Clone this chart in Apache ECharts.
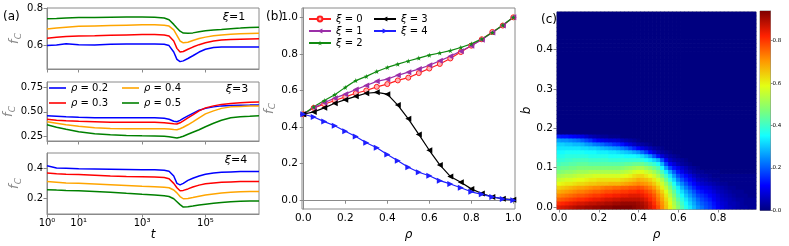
<!DOCTYPE html>
<html><head><meta charset="utf-8">
<script src="https://cdn.jsdelivr.net/npm/echarts@6/dist/echarts.min.js"></script>
<style>html,body{margin:0;padding:0;background:#fff}#c{width:789px;height:246px}</style>
</head><body><div id="c"></div>
<script>
// ---------- panel (a): time series ----------
const tVals = [1,2,4,10,32,100,320,1000,2500,5000,7100,1.0e4,1.26e4,1.58e4,2.0e4,2.8e4,4.0e4,6.3e4,1.0e5,1.8e5,3.2e5,6.3e5,1.26e6,2.5e6,4.9e6];
const xi1_r02 = [0.600,0.603,0.610,0.605,0.603,0.607,0.608,0.609,0.609,0.607,0.600,0.565,0.525,0.513,0.517,0.530,0.545,0.565,0.580,0.590,0.593,0.593,0.592,0.592,0.592];
const xi1_r03 = [0.640,0.645,0.650,0.652,0.653,0.656,0.658,0.660,0.660,0.658,0.652,0.625,0.585,0.565,0.568,0.580,0.592,0.605,0.615,0.625,0.630,0.633,0.635,0.636,0.637];
const xi1_r04 = [0.690,0.696,0.700,0.705,0.707,0.709,0.711,0.713,0.713,0.711,0.706,0.685,0.655,0.625,0.615,0.618,0.628,0.638,0.646,0.653,0.658,0.661,0.664,0.666,0.667];
const xi1_r05 = [0.745,0.747,0.750,0.752,0.753,0.754,0.755,0.755,0.754,0.750,0.740,0.715,0.695,0.678,0.668,0.667,0.669,0.675,0.680,0.685,0.688,0.692,0.695,0.698,0.700];
const xi3_r02 = [0.460,0.455,0.450,0.445,0.440,0.440,0.440,0.440,0.440,0.435,0.425,0.405,0.400,0.415,0.435,0.460,0.485,0.517,0.535,0.550,0.560,0.565,0.567,0.568,0.570];
const xi3_r03 = [0.425,0.415,0.410,0.405,0.400,0.395,0.395,0.395,0.395,0.390,0.385,0.380,0.378,0.390,0.410,0.440,0.470,0.510,0.540,0.560,0.575,0.585,0.592,0.597,0.600];
const xi3_r04 = [0.400,0.385,0.370,0.355,0.340,0.333,0.330,0.330,0.330,0.330,0.328,0.323,0.320,0.330,0.345,0.370,0.400,0.440,0.480,0.510,0.535,0.550,0.555,0.558,0.560];
const xi3_r05 = [0.370,0.345,0.325,0.300,0.280,0.270,0.263,0.260,0.258,0.255,0.250,0.243,0.237,0.245,0.255,0.275,0.295,0.320,0.350,0.385,0.415,0.440,0.450,0.455,0.460];
const xi4_r02 = [0.420,0.405,0.403,0.400,0.398,0.396,0.394,0.392,0.392,0.390,0.383,0.350,0.300,0.290,0.300,0.320,0.335,0.350,0.362,0.370,0.375,0.378,0.380,0.380,0.380];
const xi4_r03 = [0.370,0.365,0.362,0.360,0.355,0.350,0.347,0.345,0.343,0.340,0.332,0.300,0.270,0.250,0.252,0.262,0.275,0.288,0.297,0.303,0.308,0.310,0.312,0.313,0.313];
const xi4_r04 = [0.313,0.308,0.303,0.300,0.295,0.290,0.285,0.280,0.277,0.274,0.270,0.255,0.235,0.210,0.195,0.197,0.203,0.212,0.220,0.228,0.235,0.240,0.243,0.245,0.245];
const xi4_r05 = [0.257,0.254,0.252,0.250,0.245,0.240,0.232,0.225,0.220,0.215,0.210,0.195,0.175,0.155,0.138,0.140,0.145,0.152,0.158,0.165,0.170,0.175,0.178,0.180,0.180];
const rhoNamesA = ['ρ = 0.2','ρ = 0.3','ρ = 0.4','ρ = 0.5'];
const rhoColorsA = ['#0000ff','#ff0000','#ffa500','#008000'];
const tTickVals = [1,10,1000,100000];
const tTickLabels = ['10⁰','10¹','10³','10⁵'];

// ---------- panel (b) ----------
const rhoB = [0,0.05,0.1,0.15,0.2,0.25,0.3,0.35,0.4,0.45,0.5,0.55,0.6,0.65,0.7,0.75,0.8,0.85,0.9,0.95,1.0];
const fcXi0 = [0.47,0.505,0.525,0.545,0.565,0.585,0.60,0.62,0.635,0.655,0.67,0.695,0.72,0.745,0.775,0.81,0.845,0.88,0.92,0.955,1.0];
const fcXi1 = [0.47,0.505,0.533,0.558,0.58,0.605,0.627,0.65,0.662,0.683,0.70,0.717,0.738,0.762,0.787,0.815,0.845,0.878,0.917,0.955,1.0];
const fcXi2 = [0.47,0.511,0.545,0.577,0.617,0.654,0.677,0.704,0.726,0.744,0.761,0.777,0.793,0.805,0.818,0.835,0.855,0.882,0.917,0.958,1.0];
const fcXi3 = [0.47,0.483,0.505,0.53,0.55,0.568,0.585,0.59,0.58,0.52,0.445,0.36,0.273,0.193,0.13,0.098,0.062,0.037,0.018,0.008,0.003];
const fcXi4 = [0.47,0.455,0.43,0.407,0.377,0.348,0.314,0.287,0.25,0.216,0.18,0.153,0.134,0.107,0.089,0.068,0.046,0.032,0.018,0.007,0.0];
const bTicks = [0,0.2,0.4,0.6,0.8,1.0];

// ---------- panel (c): heatmap rows (b = 0.00, 0.01, ...), columns rho = 0.00..0.98 step 0.02 ----------
const hm00 = [.85,.86,.87,.88,.89,.90,.90,.91,.91,.92,.92,.93,.93,.93,.94,.94,.94,.94,.94,.93,.92,.91,.89,.86,.83,.78,.72,.66,.60,.54,.48,.42,.37,.33,.29,.25,.22,.19,.17,.14,.11,.09,.07,.06,.05,.04,.03,.03,.02,.02];
const hm01 = [.81,.82,.83,.84,.85,.86,.86,.87,.88,.88,.89,.89,.90,.90,.91,.91,.92,.92,.92,.92,.91,.90,.88,.85,.81,.76,.71,.65,.59,.52,.46,.40,.35,.31,.27,.23,.20,.18,.16,.13,.10,.08,.07,.05,.05,.04,.03,.02,.02,.02];
const hm02 = [.76,.77,.78,.79,.80,.81,.81,.82,.83,.84,.84,.85,.86,.86,.87,.87,.88,.88,.88,.88,.88,.87,.85,.82,.79,.74,.69,.63,.57,.50,.43,.38,.33,.29,.25,.21,.18,.16,.14,.11,.09,.07,.06,.05,.04,.03,.03,.02,.02,.02];
const hm03 = [.72,.73,.74,.75,.76,.77,.77,.78,.79,.80,.80,.81,.82,.82,.83,.83,.84,.84,.85,.85,.85,.84,.82,.80,.77,.72,.67,.61,.54,.47,.40,.35,.30,.26,.22,.18,.16,.14,.12,.10,.08,.06,.05,.04,.03,.02,.02,.02,.01,.01];
const hm04 = [.68,.69,.70,.71,.72,.73,.73,.74,.75,.76,.76,.77,.78,.78,.79,.79,.80,.80,.81,.81,.82,.81,.79,.77,.74,.69,.64,.58,.51,.44,.37,.32,.27,.23,.19,.15,.13,.11,.10,.08,.06,.05,.04,.03,.02,.02,.02,.01,.01,.01];
const hm05 = [.64,.65,.66,.67,.68,.69,.69,.70,.71,.72,.72,.73,.74,.74,.75,.75,.76,.76,.77,.77,.78,.77,.75,.73,.70,.65,.60,.54,.47,.40,.34,.28,.23,.19,.15,.12,.10,.09,.08,.06,.05,.04,.03,.02,.02,.01,.01,.01,.01,.01];
const hm06 = [.59,.60,.61,.61,.62,.63,.63,.64,.65,.65,.66,.66,.66,.67,.67,.67,.68,.69,.70,.71,.72,.71,.70,.68,.65,.61,.56,.50,.43,.36,.29,.24,.19,.15,.12,.09,.07,.06,.05,.04,.03,.02,.02,.01,.01,.01,.01,.01,.01,.01];
const hm07 = [.55,.56,.57,.57,.58,.59,.59,.60,.61,.61,.62,.62,.62,.62,.62,.62,.63,.64,.65,.66,.68,.67,.66,.64,.61,.57,.52,.45,.38,.31,.24,.19,.15,.12,.09,.06,.05,.04,.03,.02,.02,.01,.01,.01,.01,.01,.01,.01,.01,.01];
const hm08 = [.51,.52,.53,.53,.54,.55,.55,.56,.56,.57,.57,.57,.57,.57,.57,.57,.58,.59,.60,.62,.63,.63,.61,.59,.56,.52,.46,.40,.33,.26,.19,.15,.12,.09,.06,.04,.03,.03,.02,.01,.01,.01,.01,.01,.01,.01,.01,.01,.01,.01];
const hm09 = [.47,.48,.49,.49,.50,.51,.51,.51,.52,.52,.52,.52,.52,.52,.52,.52,.53,.54,.55,.57,.58,.58,.56,.54,.51,.47,.41,.34,.27,.20,.14,.10,.07,.05,.03,.02,.02,.01,.01,.01,.01];
const hm10 = [.44,.45,.45,.46,.46,.47,.47,.47,.47,.47,.47,.47,.47,.47,.47,.47,.48,.49,.50,.51,.52,.52,.50,.48,.45,.42,.35,.26,.18,.13,.10,.07,.05,.03,.02,.01];
const hm11 = [.41,.42,.42,.43,.43,.44,.44,.44,.43,.43,.43,.43,.43,.43,.43,.43,.43,.44,.44,.45,.45,.45,.43,.41,.39,.36,.28,.18,.11,.08,.05,.03,.02,.01];
const hm12 = [.39,.39,.40,.40,.41,.41,.41,.41,.40,.40,.40,.40,.40,.39,.39,.39,.39,.39,.39,.39,.39,.38,.36,.34,.31,.28,.19,.11,.06,.04,.03,.02,.01];
const hm13 = [.37,.37,.38,.38,.38,.38,.38,.38,.37,.37,.37,.37,.37,.36,.36,.36,.36,.35,.35,.35,.34,.32,.29,.25,.19,.13,.08,.05,.03,.02,.01];
const hm14 = [.35,.35,.36,.36,.36,.36,.36,.35,.35,.35,.34,.34,.34,.33,.33,.32,.31,.30,.29,.27,.25,.21,.17,.12,.08,.05,.03,.02,.01];
const hm15 = [.33,.33,.33,.33,.33,.33,.32,.32,.31,.31,.30,.29,.28,.27,.26,.25,.23,.21,.18,.15,.12,.09,.07,.05,.03,.02,.01];
const hm16 = [.31,.31,.30,.30,.29,.29,.28,.26,.25,.23,.22,.21,.19,.18,.16,.15,.13,.10,.08,.06,.04,.03,.02,.01];
const hm17 = [.26,.25,.25,.24,.23,.22,.20,.18,.16,.13,.11,.10,.09,.08,.08,.07,.05,.04,.03,.02,.01];
const hm18 = [.14,.13,.13,.12,.11,.10,.09,.07,.05,.04,.03,.02,.02,.01,.01,.01];
const hmRows = [hm00,hm01,hm02,hm03,hm04,hm05,hm06,hm07,hm08,hm09,hm10,hm11,hm12,hm13,hm14,hm15,hm16,hm17,hm18];
const nRho = 50, nB = 50;            // grid size; cells not listed above read as 0 (uniform dark blue)
const cbTicks = [0,0.2,0.4,0.6,0.8];
const cbMax = 0.94;

// ---------- build ----------
const FONT = 'DejaVu Sans';
const AX = '#8a8a8a';
const jet = ['#000080','#0000ff','#0080ff','#14ffff','#7cff7a','#e3ff14','#ff9700','#ff2100','#800000'];

const rhoCats = [], bCats = [];
for (let k = 0; k < nRho; k++) rhoCats.push((k*0.02).toFixed(2));
for (let j = 0; j < nB; j++) bCats.push((j*0.01).toFixed(2));
const hmData = [];
for (let j = 0; j < nB; j++) {
  const row = hmRows[j] || [];
  for (let k = 0; k < nRho; k++) hmData.push([k, j, row[k] !== undefined ? row[k] : 0]);
}

function gridBox(l,t,w,h){return {left:l,top:t,width:w,height:h,show:true,borderColor:AX,borderWidth:1,containLabel:false};}
const tick = {show:true,inside:false,length:3.5,lineStyle:{color:AX,width:1}};
const line = {show:true,lineStyle:{color:AX,width:1}};
const lbl = (fs) => ({color:'#000',fontFamily:FONT,fontSize:fs,margin:4});
const fcName = '{f|f}{s|C}';
const fcStyle = {rich:{f:{fontFamily:FONT,fontStyle:'italic',fontSize:13,lineHeight:16,verticalAlign:'middle'},s:{fontFamily:FONT,fontStyle:'italic',fontSize:9,lineHeight:9,verticalAlign:'bottom'}}};

function logX(grid, showLabels){
  return {type:'log',logBase:10,gridIndex:grid,min:1,max:4.9e6,
    axisLine:line,axisTick:Object.assign({},tick,{customValues:tTickVals}),splitLine:{show:false},minorTick:{show:false},
    axisLabel:Object.assign(lbl(10),{show:showLabels,customValues:tTickVals,
      formatter:(v)=>{const i=tTickVals.findIndex(x=>Math.abs(x-v)/x<1e-6);return i>=0?tTickLabels[i]:'';}}),
    name: showLabels?'t':'', nameLocation:'middle', nameGap:15,
    nameTextStyle:{fontFamily:FONT,fontStyle:'italic',fontSize:12,color:'#000'}};
}
function valY(grid,min,max,ticks,dec,fs){
  return {type:'value',gridIndex:grid,min:min,max:max,
    axisLine:line,axisTick:Object.assign({},tick,{customValues:ticks}),splitLine:{show:false},
    axisLabel:Object.assign(lbl(fs),{customValues:ticks,formatter:(v)=>v.toFixed(dec)}),
    name:fcName,nameLocation:'middle',nameRotate:90,nameGap:24,nameTextStyle:fcStyle};
}

const series = [];
const aSets = [[xi1_r02,xi1_r03,xi1_r04,xi1_r05],[xi3_r02,xi3_r03,xi3_r04,xi3_r05],[xi4_r02,xi4_r03,xi4_r04,xi4_r05]];
aSets.forEach((set, g) => {
  set.forEach((arr, i) => {
    series.push({type:'line',name:rhoNamesA[i],xAxisIndex:g,yAxisIndex:g,symbol:'none',
      data:tVals.map((t,n)=>[t,arr[n]]),lineStyle:{color:rhoColorsA[i],width:1.5},itemStyle:{color:rhoColorsA[i]},
      silent:true,z:2});
  });
});

const star = 'path://M0,-10L2.35,-3.24L9.51,-3.09L3.8,1.24L5.88,8.09L0,4L-5.88,8.09L-3.8,1.24L-9.51,-3.09L-2.35,-3.24Z';
const bSpecs = [
  {name:'ξ = 0',data:fcXi0,color:'#ff2020',symbol:'circle',size:5,rot:0,fill:'#ffb3b3'},
  {name:'ξ = 1',data:fcXi1,color:'#9b2fa8',symbol:'triangle',size:6,rot:90,fill:'#9b2fa8'},
  {name:'ξ = 2',data:fcXi2,color:'#108a10',symbol:star,size:5,rot:0,fill:'#108a10'},
  {name:'ξ = 3',data:fcXi3,color:'#000000',symbol:'triangle',size:6,rot:90,fill:'#000000'},
  {name:'ξ = 4',data:fcXi4,color:'#1f1fff',symbol:'triangle',size:6,rot:-90,fill:'#1f1fff'}
];
bSpecs.forEach(s => {
  series.push({type:'line',name:s.name,xAxisIndex:3,yAxisIndex:3,symbol:s.symbol,symbolSize:s.size,symbolRotate:s.rot,showSymbol:true,
    data:rhoB.map((r,i)=>[r,s.data[i]]),lineStyle:{color:s.color,width:1.2},
    itemStyle:{color:s.fill,borderColor:s.color,borderWidth:s.symbol==='circle'?1:0},z:3});
});
const hmIndex = series.length;
series.push({type:'custom',xAxisIndex:4,yAxisIndex:4,data:hmData,encode:{x:0,y:1},silent:true,
  renderItem:(params,api)=>{
    const c = api.coord([api.value(0),api.value(1)]);
    const s = api.size([1,1]);
    return {type:'rect',shape:{x:c[0]-s[0]/2-0.35,y:c[1]-s[1]/2-0.35,width:s[0]+0.7,height:s[1]+0.7},
      style:{fill:api.visual('color'),stroke:null}};
  }});
const stops = jet.map((c,i)=>({offset:i/(jet.length-1),color:c}));
series.push({type:'bar',xAxisIndex:5,yAxisIndex:5,data:[cbMax],barWidth:'100%',silent:true,
  itemStyle:{color:new echarts.graphic.LinearGradient(0,1,0,0,stops)}});

const legText = (fs) => ({fontFamily:FONT,fontSize:fs,color:'#000',rich:{i:{fontFamily:FONT,fontStyle:'italic',fontSize:fs}}});
const legFmt = (name) => '{i|' + name.charAt(0) + '}' + name.slice(1);

const option = {
  animation:false,
  backgroundColor:'#fff',
  grid:[gridBox(47,8,212,61),gridBox(47,82,212,59),gridBox(47,153,212,61),gridBox(302,8,213,205),gridBox(557,12,199,199),gridBox(760,11,10.5,199.5)],
  xAxis:[logX(0,false),logX(1,false),logX(2,true),
    {type:'value',gridIndex:3,min:-0.006,max:1.008,axisLine:line,axisTick:Object.assign({},tick,{customValues:bTicks}),splitLine:{show:false},
      axisLabel:Object.assign(lbl(10.5),{customValues:bTicks,formatter:v=>v.toFixed(1)}),
      name:'ρ',nameLocation:'middle',nameGap:20,nameTextStyle:{fontFamily:FONT,fontStyle:'italic',fontSize:12,color:'#000'}},
    {type:'category',gridIndex:4,data:rhoCats,axisLine:line,
      axisTick:Object.assign({},tick,{alignWithLabel:true,interval:(i)=>i%10===0}),
      axisLabel:Object.assign(lbl(10.5),{interval:(i)=>i%10===0,formatter:v=>Number(v).toFixed(1)}),
      name:'ρ',nameLocation:'middle',nameGap:20,nameTextStyle:{fontFamily:FONT,fontStyle:'italic',fontSize:12,color:'#000'}},
    {type:'category',gridIndex:5,data:['cb'],show:false}
  ],
  yAxis:[valY(0,0.473,0.804,[0.6,0.8],1,10),valY(1,0.207,0.80,[0.25,0.5,0.75],2,10),valY(2,0.091,0.507,[0.2,0.4],1,10),
    Object.assign(valY(3,-0.048,1.051,bTicks,1,10.5),{nameGap:23}),
    {type:'category',gridIndex:4,data:bCats,axisLine:line,
      axisTick:Object.assign({},tick,{alignWithLabel:true,interval:(i)=>i%10===0}),
      axisLabel:Object.assign(lbl(10.5),{interval:(i)=>i%10===0,formatter:v=>Number(v).toFixed(1)}),
      name:'b',nameLocation:'middle',nameRotate:90,nameGap:9,nameTextStyle:{fontFamily:FONT,fontStyle:'italic',fontSize:12,color:'#000'}},
    {type:'value',gridIndex:5,min:0,max:cbMax,position:'right',axisLine:line,
      axisTick:Object.assign({},tick,{length:2,customValues:cbTicks}),splitLine:{show:false},
      axisLabel:Object.assign(lbl(5.5),{margin:2,customValues:cbTicks,formatter:v=>v.toFixed(1)})}
  ],
  visualMap:[{type:'continuous',show:false,min:0,max:cbMax,dimension:2,seriesIndex:hmIndex,inRange:{color:jet}}],
  legend:[
    {left:49,top:83,orient:'vertical',data:['ρ = 0.2','ρ = 0.3'],icon:'rect',itemWidth:17,itemHeight:1.6,itemGap:5,padding:0,textStyle:legText(10),formatter:legFmt,selectedMode:false},
    {left:122,top:83,orient:'vertical',data:['ρ = 0.4','ρ = 0.5'],icon:'rect',itemWidth:17,itemHeight:1.6,itemGap:5,padding:0,textStyle:legText(10),formatter:legFmt,selectedMode:false},
    {left:308,top:14,orient:'vertical',data:['ξ = 0','ξ = 1','ξ = 2'],itemWidth:22,itemHeight:6,itemGap:2,padding:0,textStyle:legText(10),formatter:legFmt,selectedMode:false},
    {left:373,top:14,orient:'vertical',data:['ξ = 3','ξ = 4'],itemWidth:22,itemHeight:6,itemGap:2,padding:0,textStyle:legText(10),formatter:legFmt,selectedMode:false}
  ],
  graphic:[
    {type:'text',x:3,y:17,style:{text:'(a)',fontFamily:FONT,fontSize:12,fill:'#000',verticalAlign:'middle'}},
    {type:'text',x:266,y:17,style:{text:'(b)',fontFamily:FONT,fontSize:12,fill:'#000',verticalAlign:'middle'}},
    {type:'text',x:541,y:20,style:{text:'(c)',fontFamily:FONT,fontSize:12,fill:'#000',verticalAlign:'middle'}},
    {type:'text',x:234,y:17,style:{text:'{i|ξ}=1',fontFamily:FONT,fontSize:11,fill:'#000',align:'center',verticalAlign:'middle',rich:{i:{fontFamily:FONT,fontStyle:'italic',fontSize:11}}}},
    {type:'text',x:237,y:89,style:{text:'{i|ξ}=3',fontFamily:FONT,fontSize:11,fill:'#000',align:'center',verticalAlign:'middle',rich:{i:{fontFamily:FONT,fontStyle:'italic',fontSize:11}}}},
    {type:'text',x:236,y:160,style:{text:'{i|ξ}=4',fontFamily:FONT,fontSize:11,fill:'#000',align:'center',verticalAlign:'middle',rich:{i:{fontFamily:FONT,fontStyle:'italic',fontSize:11}}}}
  ],
  series:series
};
const chart = echarts.init(document.getElementById('c'),null,{renderer:'canvas'});
chart.setOption(option);
</script></body></html>
